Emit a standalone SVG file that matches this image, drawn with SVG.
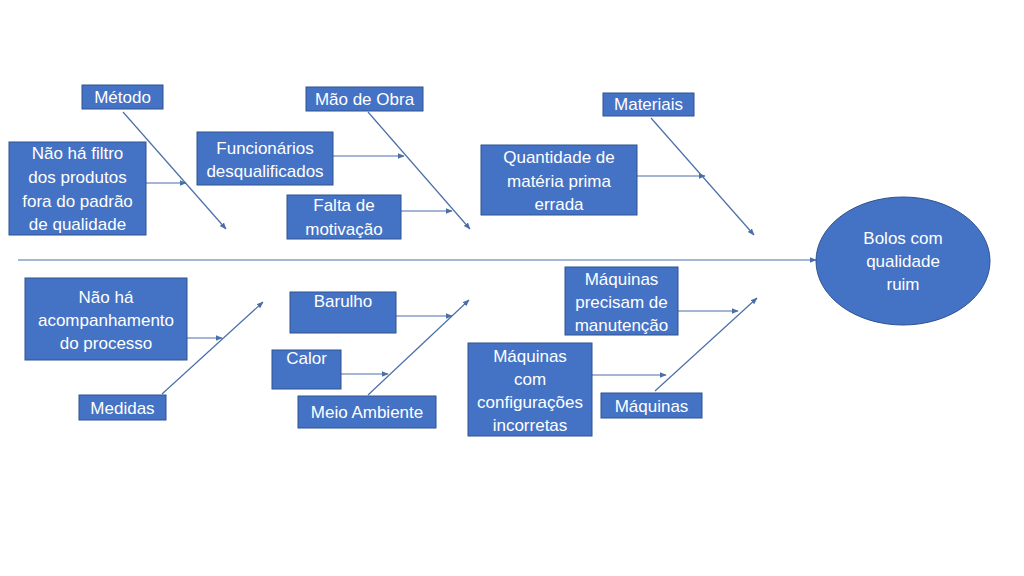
<svg xmlns="http://www.w3.org/2000/svg" width="1024" height="576" viewBox="0 0 1024 576">
<style>
.box{fill:#4472C4;stroke:#2F528F;stroke-width:1}
.t{font-family:"Liberation Sans",Arial,sans-serif;font-size:17px;fill:#ffffff;text-anchor:middle}
.c{stroke:#4A6FA8;stroke-width:1.2;fill:none;marker-end:url(#ah)}
</style>
<defs>
<marker id="ah" viewBox="0 0 10 10" refX="9" refY="5" markerWidth="7" markerHeight="7" markerUnits="userSpaceOnUse" orient="auto">
<path d="M0,1 L10,5 L0,9 Z" fill="#4A6FA8"/>
</marker>
</defs>
<rect width="1024" height="576" fill="#ffffff"/>
<g id="connectors">
<line class="c" x1="18" y1="260" x2="816" y2="260"/>
<line class="c" x1="123" y1="112" x2="226" y2="229"/>
<line class="c" x1="146" y1="183" x2="186" y2="183"/>
<line class="c" x1="368" y1="112" x2="470" y2="229"/>
<line class="c" x1="333" y1="156" x2="404" y2="156"/>
<line class="c" x1="401" y1="211" x2="452" y2="211"/>
<line class="c" x1="651" y1="118" x2="754" y2="235"/>
<line class="c" x1="637" y1="176" x2="705" y2="176"/>
<line class="c" x1="162" y1="394" x2="263" y2="302"/>
<line class="c" x1="187" y1="338" x2="222" y2="338"/>
<line class="c" x1="368" y1="395" x2="469" y2="300"/>
<line class="c" x1="396" y1="316" x2="452" y2="316"/>
<line class="c" x1="341" y1="374" x2="388" y2="374"/>
<line class="c" x1="655" y1="391" x2="757" y2="298"/>
<line class="c" x1="678" y1="311" x2="738" y2="311"/>
<line class="c" x1="592" y1="375" x2="666" y2="375"/>
</g>
<g id="metodo"><rect class="box" x="82" y="85" width="81" height="24"/><text class="t" x="122.5" y="103">Método</text></g>
<g id="filtro"><rect class="box" x="9" y="142" width="137" height="93"/>
<text class="t" x="77.5" y="159">Não há filtro</text><text class="t" x="77.5" y="183">dos produtos</text><text class="t" x="77.5" y="207">fora do padrão</text><text class="t" x="77.5" y="230">de qualidade</text></g>
<g id="funcionarios"><rect class="box" x="197" y="132" width="136" height="53"/>
<text class="t" x="265" y="154">Funcionários</text><text class="t" x="265" y="177">desqualificados</text></g>
<g id="maodeobra"><rect class="box" x="306" y="87" width="117" height="24"/><text class="t" x="364.5" y="105">Mão de Obra</text></g>
<g id="falta"><rect class="box" x="287" y="195" width="114" height="44"/>
<text class="t" x="344" y="211">Falta de</text><text class="t" x="344" y="235">motivação</text></g>
<g id="materiais"><rect class="box" x="603" y="93" width="91" height="23"/><text class="t" x="648.5" y="110">Materiais</text></g>
<g id="quantidade"><rect class="box" x="481" y="145" width="156" height="70"/>
<text class="t" x="559" y="163">Quantidade de</text><text class="t" x="559" y="187">matéria prima</text><text class="t" x="559" y="210">errada</text></g>
<g id="efeito"><ellipse cx="903" cy="261" rx="87" ry="64" fill="#4472C4" stroke="#2F528F" stroke-width="1"/>
<text class="t" x="903" y="244">Bolos com</text><text class="t" x="903" y="267">qualidade</text><text class="t" x="903" y="290">ruim</text></g>
<g id="acompanhamento"><rect class="box" x="25" y="278" width="162" height="82"/>
<text class="t" x="106" y="303">Não há</text><text class="t" x="106" y="326">acompanhamento</text><text class="t" x="106" y="349">do processo</text></g>
<g id="medidas"><rect class="box" x="79" y="395" width="87" height="25"/><text class="t" x="122.5" y="414">Medidas</text></g>
<g id="barulho"><rect class="box" x="290" y="292" width="106" height="41"/><text class="t" x="343" y="307">Barulho</text></g>
<g id="calor"><rect class="box" x="272" y="350" width="69" height="39"/><text class="t" x="306.5" y="364">Calor</text></g>
<g id="meioambiente"><rect class="box" x="298" y="396" width="138" height="32"/><text class="t" x="367" y="418">Meio Ambiente</text></g>
<g id="manutencao"><rect class="box" x="565" y="267" width="113" height="68"/>
<text class="t" x="621.5" y="285">Máquinas</text><text class="t" x="621.5" y="308">precisam de</text><text class="t" x="621.5" y="331">manutenção</text></g>
<g id="configuracoes"><rect class="box" x="468" y="343" width="124" height="93"/>
<text class="t" x="530" y="362">Máquinas</text><text class="t" x="530" y="385">com</text><text class="t" x="530" y="408">configurações</text><text class="t" x="530" y="431">incorretas</text></g>
<g id="maquinas"><rect class="box" x="601" y="393" width="101" height="25"/><text class="t" x="651.5" y="412">Máquinas</text></g>
</svg>
